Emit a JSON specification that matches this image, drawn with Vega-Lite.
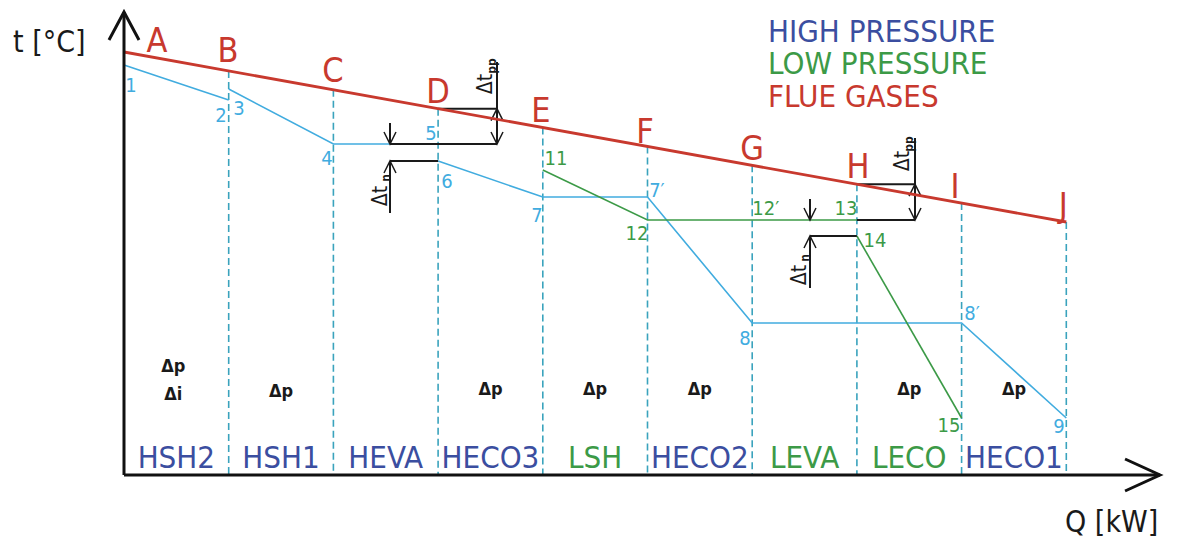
{
  "$schema": "https://vega.github.io/schema/vega-lite/v6.json",
  "width": 1179,
  "height": 538,
  "autosize": {"type": "fit", "contains": "padding"},
  "padding": 0,
  "background": "white",
  "view": {"stroke": null},
  "config": {"font": "DejaVu Sans Condensed"},
  "datasets": {
    "flue": [{"q": 0, "t": 423}, {"q": 9, "t": 253}],
    "bounds": [
      {"q": 1, "t": 404.1}, {"q": 2, "t": 385.2}, {"q": 3, "t": 366.3},
      {"q": 4, "t": 347.4}, {"q": 5, "t": 328.6}, {"q": 6, "t": 309.7},
      {"q": 7, "t": 290.8}, {"q": 8, "t": 271.9}, {"q": 9, "t": 253}
    ],
    "hp": [
      {"seg": "a", "i": 0, "q": 0, "t": 410}, {"seg": "a", "i": 1, "q": 1, "t": 375},
      {"seg": "b", "i": 2, "q": 1, "t": 386}, {"seg": "b", "i": 3, "q": 2, "t": 331},
      {"seg": "b", "i": 4, "q": 3, "t": 331},
      {"seg": "c", "i": 5, "q": 3, "t": 314}, {"seg": "c", "i": 6, "q": 4, "t": 278},
      {"seg": "c", "i": 7, "q": 5, "t": 278}, {"seg": "c", "i": 8, "q": 6, "t": 152},
      {"seg": "c", "i": 9, "q": 8, "t": 152}, {"seg": "c", "i": 10, "q": 9, "t": 57}
    ],
    "lp": [
      {"seg": "a", "i": 0, "q": 4, "t": 305}, {"seg": "a", "i": 1, "q": 5, "t": 255},
      {"seg": "a", "i": 2, "q": 7, "t": 255},
      {"seg": "b", "i": 3, "q": 7, "t": 239}, {"seg": "b", "i": 4, "q": 8, "t": 57}
    ],
    "axes": [
      {"seg": "y", "i": 0, "q": 0, "t": 0}, {"seg": "y", "i": 1, "q": 0, "t": 463},
      {"seg": "ya", "i": 0, "q": -0.1433, "t": 435}, {"seg": "ya", "i": 1, "q": 0, "t": 463}, {"seg": "ya", "i": 2, "q": 0.1433, "t": 435},
      {"seg": "x", "i": 0, "q": 0, "t": 0}, {"seg": "x", "i": 1, "q": 9.895, "t": 0},
      {"seg": "xa", "i": 0, "q": 9.561, "t": 16}, {"seg": "xa", "i": 1, "q": 9.895, "t": 0}, {"seg": "xa", "i": 2, "q": 9.561, "t": -16}
    ],
    "annot": [
      {"seg": "s1", "i": 0, "q": 3, "t": 366.3}, {"seg": "s1", "i": 1, "q": 3.5626, "t": 366.3},
      {"seg": "s2", "i": 0, "q": 2.5406, "t": 331}, {"seg": "s2", "i": 1, "q": 3.5626, "t": 331},
      {"seg": "s3", "i": 0, "q": 3.5626, "t": 413}, {"seg": "s3", "i": 1, "q": 3.5626, "t": 331},
      {"seg": "s6", "i": 0, "q": 2.5406, "t": 352}, {"seg": "s6", "i": 1, "q": 2.5406, "t": 331},
      {"seg": "s8", "i": 0, "q": 2.5406, "t": 314}, {"seg": "s8", "i": 1, "q": 3, "t": 314},
      {"seg": "s9", "i": 0, "q": 2.5406, "t": 314}, {"seg": "s9", "i": 1, "q": 2.5406, "t": 262},
      {"seg": "s11", "i": 0, "q": 7, "t": 290.8}, {"seg": "s11", "i": 1, "q": 7.555, "t": 290.8},
      {"seg": "s12", "i": 0, "q": 7, "t": 255}, {"seg": "s12", "i": 1, "q": 7.555, "t": 255},
      {"seg": "s13", "i": 0, "q": 7.555, "t": 337}, {"seg": "s13", "i": 1, "q": 7.555, "t": 255},
      {"seg": "s16", "i": 0, "q": 6.552, "t": 276}, {"seg": "s16", "i": 1, "q": 6.552, "t": 255},
      {"seg": "s18", "i": 0, "q": 6.552, "t": 239}, {"seg": "s18", "i": 1, "q": 7, "t": 239},
      {"seg": "s19", "i": 0, "q": 6.552, "t": 239}, {"seg": "s19", "i": 1, "q": 6.552, "t": 187}
    ],
    "heads": [
      {"seg": "s4", "i": 0, "q": 3.5053, "t": 354.3}, {"seg": "s4", "i": 1, "q": 3.5626, "t": 366.3}, {"seg": "s4", "i": 2, "q": 3.6199, "t": 354.3},
      {"seg": "s5", "i": 0, "q": 3.5053, "t": 343}, {"seg": "s5", "i": 1, "q": 3.5626, "t": 331}, {"seg": "s5", "i": 2, "q": 3.6199, "t": 343},
      {"seg": "s7", "i": 0, "q": 2.4833, "t": 343}, {"seg": "s7", "i": 1, "q": 2.5406, "t": 331}, {"seg": "s7", "i": 2, "q": 2.5979, "t": 343},
      {"seg": "s10", "i": 0, "q": 2.4833, "t": 302}, {"seg": "s10", "i": 1, "q": 2.5406, "t": 314}, {"seg": "s10", "i": 2, "q": 2.5979, "t": 302},
      {"seg": "s14", "i": 0, "q": 7.4977, "t": 278.8}, {"seg": "s14", "i": 1, "q": 7.555, "t": 290.8}, {"seg": "s14", "i": 2, "q": 7.6123, "t": 278.8},
      {"seg": "s15", "i": 0, "q": 7.4977, "t": 267}, {"seg": "s15", "i": 1, "q": 7.555, "t": 255}, {"seg": "s15", "i": 2, "q": 7.6123, "t": 267},
      {"seg": "s17", "i": 0, "q": 6.4947, "t": 267}, {"seg": "s17", "i": 1, "q": 6.552, "t": 255}, {"seg": "s17", "i": 2, "q": 6.6093, "t": 267},
      {"seg": "s20", "i": 0, "q": 6.4947, "t": 227}, {"seg": "s20", "i": 1, "q": 6.552, "t": 239}, {"seg": "s20", "i": 2, "q": 6.6093, "t": 227}
    ],
    "letters": [
      {"q": 0.315, "t": 423, "label": "A"}, {"q": 0.993, "t": 413, "label": "B"},
      {"q": 1.996, "t": 393, "label": "C"}, {"q": 3.0, "t": 372, "label": "D"},
      {"q": 3.983, "t": 353, "label": "E"}, {"q": 4.976, "t": 332, "label": "F"},
      {"q": 6.0, "t": 315, "label": "G"}, {"q": 7.011, "t": 297, "label": "H"},
      {"q": 7.937, "t": 277, "label": "I"}, {"q": 8.97, "t": 258, "label": "J"}
    ],
    "nums": [
      {"q": 0.067, "t": 383, "label": "1", "c": "HP"},
      {"q": 0.926, "t": 353, "label": "2", "c": "HP"},
      {"q": 1.098, "t": 360, "label": "3", "c": "HP"},
      {"q": 1.939, "t": 310, "label": "4", "c": "HP"},
      {"q": 2.932, "t": 335, "label": "5", "c": "HP"},
      {"q": 3.085, "t": 287, "label": "6", "c": "HP"},
      {"q": 3.945, "t": 253, "label": "7", "c": "HP"},
      {"q": 5.09, "t": 278, "label": "7′", "c": "HP"},
      {"q": 5.93, "t": 130, "label": "8", "c": "HP"},
      {"q": 8.1, "t": 155, "label": "8′", "c": "HP"},
      {"q": 8.93, "t": 42, "label": "9", "c": "HP"},
      {"q": 4.126, "t": 310, "label": "11", "c": "LP"},
      {"q": 4.9, "t": 235, "label": "12", "c": "LP"},
      {"q": 6.13, "t": 260, "label": "12′", "c": "LP"},
      {"q": 6.896, "t": 260, "label": "13", "c": "LP"},
      {"q": 7.173, "t": 228, "label": "14", "c": "LP"},
      {"q": 7.88, "t": 43, "label": "15", "c": "LP"}
    ],
    "sections": [
      {"q": 0.5, "t": 7, "label": "HSH2", "c": "HP"},
      {"q": 1.5, "t": 7, "label": "HSH1", "c": "HP"},
      {"q": 2.5, "t": 7, "label": "HEVA", "c": "HP"},
      {"q": 3.5, "t": 7, "label": "HECO3", "c": "HP"},
      {"q": 4.5, "t": 7, "label": "LSH", "c": "LP"},
      {"q": 5.5, "t": 7, "label": "HECO2", "c": "HP"},
      {"q": 6.5, "t": 7, "label": "LEVA", "c": "LP"},
      {"q": 7.5, "t": 7, "label": "LECO", "c": "LP"},
      {"q": 8.5, "t": 7, "label": "HECO1", "c": "HP"}
    ],
    "legend": [
      {"q": 6.151, "t": 433, "label": "HIGH PRESSURE", "c": "HP"},
      {"q": 6.151, "t": 401, "label": "LOW PRESSURE", "c": "LP"},
      {"q": 6.151, "t": 368, "label": "FLUE GASES", "c": "FG"}
    ],
    "dp": [
      {"q": 0.47, "t": 103, "label": "Δp"},
      {"q": 0.47, "t": 75, "label": "Δi"},
      {"q": 1.5, "t": 78, "label": "Δp"},
      {"q": 3.5, "t": 80, "label": "Δp"},
      {"q": 4.5, "t": 80, "label": "Δp"},
      {"q": 5.5, "t": 80, "label": "Δp"},
      {"q": 7.5, "t": 80, "label": "Δp"},
      {"q": 8.5, "t": 80, "label": "Δp"}
    ],
    "dtmain": [
      {"q": 3.4575, "t": 391, "label": "Δt"},
      {"q": 2.4546, "t": 279, "label": "Δt"},
      {"q": 7.44, "t": 314, "label": "Δt"},
      {"q": 6.457, "t": 200, "label": "Δt"}
    ],
    "dtsub": [
      {"q": 3.5148, "t": 409, "label": "pp"},
      {"q": 2.502, "t": 297, "label": "n"},
      {"q": 7.498, "t": 331, "label": "pp"},
      {"q": 6.504, "t": 217, "label": "n"}
    ],
    "titles": [
      {"q": -1.06, "t": 423, "label": "t [°C]"},
      {"q": 8.988, "t": -57, "label": "Q [kW]"}
    ]
  },
  "encoding": {
    "x": {"field": "q", "type": "quantitative", "scale": {"domain": [-1.1843, 10.0764], "nice": false, "zero": false}, "axis": null},
    "y": {"field": "t", "type": "quantitative", "scale": {"domain": [-63, 475], "nice": false, "zero": false}, "axis": null}
  },
  "resolve": {"scale": {"color": "independent"}},
  "layer": [
    {
      "data": {"name": "bounds"},
      "mark": {"type": "rule", "color": "#3aa3bd", "strokeWidth": 1.6, "strokeDash": [7, 4]},
      "encoding": {"y2": {"datum": 0}}
    },
    {
      "data": {"name": "hp"},
      "mark": {"type": "line", "color": "#41acdf", "strokeWidth": 1.6},
      "encoding": {"detail": {"field": "seg"}, "order": {"field": "i", "type": "quantitative"}}
    },
    {
      "data": {"name": "lp"},
      "mark": {"type": "line", "color": "#3c9a47", "strokeWidth": 1.6},
      "encoding": {"detail": {"field": "seg"}, "order": {"field": "i", "type": "quantitative"}}
    },
    {
      "data": {"name": "annot"},
      "mark": {"type": "line", "color": "#1a1a1a", "strokeWidth": 2},
      "encoding": {"detail": {"field": "seg"}, "order": {"field": "i", "type": "quantitative"}}
    },
    {
      "data": {"name": "heads"},
      "mark": {"type": "line", "color": "#1a1a1a", "strokeWidth": 1.5},
      "encoding": {"detail": {"field": "seg"}, "order": {"field": "i", "type": "quantitative"}}
    },
    {
      "data": {"name": "flue"},
      "mark": {"type": "line", "color": "#c8392e", "strokeWidth": 2.8},
      "encoding": {}
    },
    {
      "data": {"name": "axes"},
      "mark": {"type": "line", "color": "#111111", "strokeWidth": 3},
      "encoding": {"detail": {"field": "seg"}, "order": {"field": "i", "type": "quantitative"}}
    },
    {
      "data": {"name": "letters"},
      "mark": {"type": "text", "fontSize": 34, "align": "center", "baseline": "alphabetic", "color": "#c8392e"},
      "encoding": {"text": {"field": "label"}}
    },
    {
      "data": {"name": "nums"},
      "mark": {"type": "text", "fontSize": 20, "align": "center", "baseline": "alphabetic"},
      "encoding": {
        "text": {"field": "label"},
        "color": {"field": "c", "type": "nominal", "scale": {"domain": ["HP", "LP"], "range": ["#41acdf", "#3c9a47"]}, "legend": null}
      }
    },
    {
      "data": {"name": "sections"},
      "mark": {"type": "text", "fontSize": 31, "align": "center", "baseline": "alphabetic"},
      "encoding": {
        "text": {"field": "label"},
        "color": {"field": "c", "type": "nominal", "scale": {"domain": ["HP", "LP"], "range": ["#3b4ea0", "#3c9a47"]}, "legend": null}
      }
    },
    {
      "data": {"name": "legend"},
      "mark": {"type": "text", "fontSize": 31, "align": "left", "baseline": "alphabetic"},
      "encoding": {
        "text": {"field": "label"},
        "color": {"field": "c", "type": "nominal", "scale": {"domain": ["HP", "LP", "FG"], "range": ["#3b4ea0", "#3c9a47", "#c8392e"]}, "legend": null}
      }
    },
    {
      "data": {"name": "dp"},
      "mark": {"type": "text", "fontSize": 18, "fontWeight": "bold", "align": "center", "baseline": "alphabetic", "color": "#1a1a1a"},
      "encoding": {"text": {"field": "label"}}
    },
    {
      "data": {"name": "dtmain"},
      "mark": {"type": "text", "fontSize": 21, "angle": 270, "align": "center", "baseline": "middle", "color": "#1a1a1a"},
      "encoding": {"text": {"field": "label"}}
    },
    {
      "data": {"name": "dtsub"},
      "mark": {"type": "text", "fontSize": 12, "fontWeight": "bold", "angle": 270, "align": "center", "baseline": "middle", "color": "#1a1a1a"},
      "encoding": {"text": {"field": "label"}}
    },
    {
      "data": {"name": "titles"},
      "mark": {"type": "text", "fontSize": 30, "align": "left", "baseline": "alphabetic", "color": "#1a1a1a"},
      "encoding": {"text": {"field": "label"}}
    }
  ]
}
